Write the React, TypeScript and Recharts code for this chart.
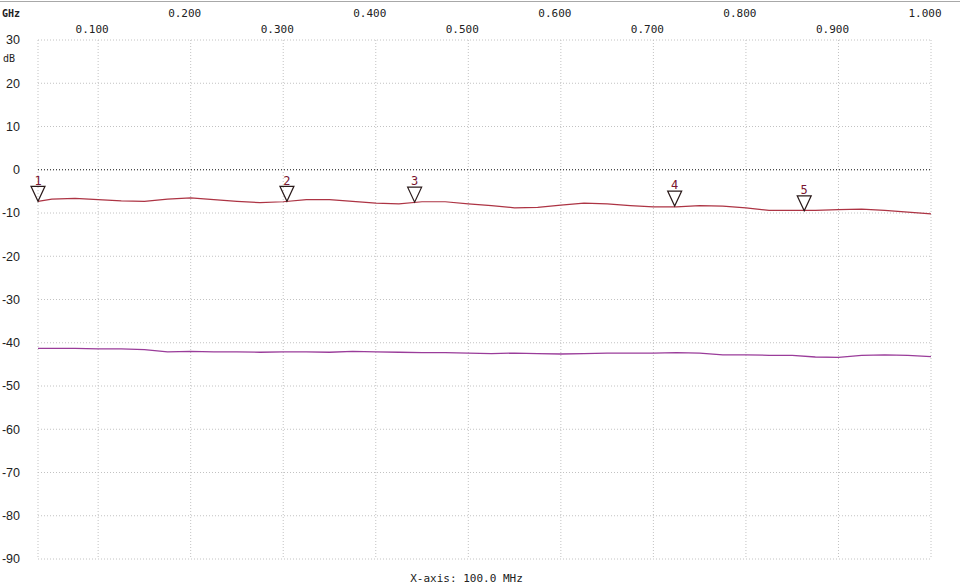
import React from 'react';
import {
  LineChart,
  Line,
  XAxis,
  YAxis,
  CartesianGrid,
  ReferenceLine,
  ReferenceDot,
  Label,
} from 'recharts';

// frequency points (GHz)
const freqs = [
  0.035, 0.05, 0.075, 0.1, 0.125, 0.15, 0.175, 0.2, 0.225, 0.25, 0.275, 0.3, 0.325, 0.35,
  0.375, 0.4, 0.425, 0.45, 0.475, 0.5, 0.525, 0.55, 0.575, 0.6, 0.625, 0.65, 0.675, 0.7,
  0.725, 0.75, 0.775, 0.8, 0.825, 0.85, 0.875, 0.9, 0.925, 0.95, 0.975, 1.0,
];

// upper trace (dB)
const traceA = [
  -7.3, -6.8, -6.6, -6.9, -7.2, -7.3, -6.8, -6.5, -6.9, -7.3, -7.6, -7.4, -6.9, -6.9,
  -7.3, -7.7, -7.9, -7.4, -7.4, -7.9, -8.3, -8.8, -8.7, -8.2, -7.7, -7.9, -8.3, -8.6,
  -8.6, -8.3, -8.4, -8.8, -9.4, -9.4, -9.4, -9.2, -9.1, -9.4, -9.8, -10.2,
];

// lower trace (dB)
const traceB = [
  -41.3, -41.3, -41.3, -41.4, -41.4, -41.6, -42.1, -42.0, -42.1, -42.1, -42.2, -42.1, -42.1,
  -42.2, -42.0, -42.1, -42.2, -42.3, -42.3, -42.4, -42.5, -42.4, -42.5, -42.6, -42.5, -42.4,
  -42.4, -42.4, -42.3, -42.4, -42.8, -42.8, -42.9, -42.9, -43.3, -43.4, -42.9, -42.8, -42.9,
  -43.2,
];

// markers
const markerFreqs = [0.035, 0.304, 0.442, 0.723, 0.863];
const markerValues = [-7.3, -7.3, -7.5, -8.4, -9.5];
const markerNames = ['1', '2', '3', '4', '5'];

const xTicks = [0.035, 0.1, 0.2, 0.3, 0.4, 0.5, 0.6, 0.7, 0.8, 0.9, 1.0];
const yTicks = [30, 20, 10, 0, -10, -20, -30, -40, -50, -60, -70, -80, -90];

const data = freqs.map((f, i) => ({ f, a: traceA[i], b: traceB[i] }));

const tickFont = '"Liberation Sans", Arial, sans-serif';
const monoFont = '"DejaVu Sans Mono", monospace';

const TopTick = (props: any) => {
  const { x, y, payload } = props;
  const v = payload.value;
  if (v < 0.05) return <g />;
  const odd = Math.round(v * 10) % 2 === 1;
  return (
    <text
      x={x - 6}
      y={odd ? y - 11 : y - 27}
      dy="0.35em"
      textAnchor="middle"
      fontFamily={monoFont}
      fontSize={11}
      fill="#222"
    >
      {v.toFixed(3)}
    </text>
  );
};

const YTick = (props: any) => {
  const { x, y, payload } = props;
  return (
    <g>
      <text x={x} y={y} dy="0.35em" textAnchor="end" fontFamily={tickFont} fontSize={12.5} fill="#222">
        {payload.value}
      </text>
      {payload.value === 30 && (
        <text x={x - 5} y={y + 18} dy="0.35em" textAnchor="end" fontFamily={monoFont} fontSize={10} fill="#222">
          dB
        </text>
      )}
    </g>
  );
};

const RightTick = (props: any) => {
  const { x, y, payload } = props;
  return (
    <g>
      <text x={x} y={y} dy="0.35em" textAnchor="end" fontFamily={tickFont} fontSize={12.5} fill="#222">
        {payload.value}
      </text>
      {payload.value === 30 && (
        <text x={x - 1} y={y + 18} dy="0.35em" textAnchor="end" fontFamily={monoFont} fontSize={10} fill="#222">
          dB
        </text>
      )}
    </g>
  );
};

const Marker = (name: string) => (props: any) => {
  const { cx, cy } = props;
  return (
    <g>
      <polygon
        points={`${cx - 7},${cy - 15} ${cx + 7},${cy - 15} ${cx},${cy}`}
        fill="#fff"
        fillOpacity={0}
        stroke="#2a1a1a"
        strokeWidth={1.2}
      />
      <text x={cx} y={cy - 21} dy="0.35em" textAnchor="middle" fontFamily={monoFont} fontSize={12} fill="#7a1530">
        {name}
      </text>
    </g>
  );
};

const App: React.FC = () => {
  return (
    <div style={{ position: 'absolute', left: 0, top: 0, width: 960, height: 586, background: '#fff' }}>
      <div style={{ position: 'absolute', left: 0, top: 1, width: 960, height: 1, background: '#a8a8a8' }} />
      <LineChart width={960} height={586} data={data} margin={{ top: 0, right: 0, bottom: 0, left: 0 }}>
        <CartesianGrid xAxisId="top" yAxisId="left" stroke="#c2c2c2" strokeDasharray="1 2" />
        <XAxis
          xAxisId="top"
          orientation="top"
          dataKey="f"
          type="number"
          domain={[0.035, 1.0]}
          ticks={xTicks}
          height={40}
          tickSize={0}
          tickMargin={0}
          axisLine={false}
          tick={<TopTick />}
          interval={0}
        >
          <Label
            content={(p: any) => (
              <text x={p.viewBox.x - 36} y={13} dy="0.35em" fontFamily={monoFont} fontSize={10} fontWeight="bold" fill="#222">
                GHz
              </text>
            )}
          />
        </XAxis>
        <XAxis
          xAxisId="bottom"
          orientation="bottom"
          dataKey="f"
          type="number"
          domain={[0.035, 1.0]}
          height={27}
          tick={false}
          axisLine={false}
          tickLine={false}
        >
          <Label
            content={(p: any) => (
              <text
                x={p.viewBox.x + p.viewBox.width / 2 - 18}
                y={p.viewBox.y + 19}
                dy="0.35em"
                textAnchor="middle"
                fontFamily={monoFont}
                fontSize={11}
                fill="#222"
              >
                X-axis: 100.0 MHz
              </text>
            )}
          />
        </XAxis>
        <YAxis
          yAxisId="left"
          domain={[-90, 30]}
          ticks={yTicks}
          width={38}
          tickSize={0}
          tickMargin={18}
          axisLine={false}
          tick={<YTick />}
          interval={0}
        />
        <YAxis
          yAxisId="right"
          orientation="right"
          domain={[-90, 30]}
          ticks={yTicks}
          width={29}
          tickSize={0}
          tickMargin={26}
          axisLine={false}
          tick={<RightTick />}
          interval={0}
        />
        <ReferenceLine xAxisId="top" yAxisId="left" y={0} stroke="#222" strokeDasharray="1 2" />
        <Line
          xAxisId="top"
          yAxisId="left"
          type="linear"
          dataKey="b"
          stroke="#9a3c9a"
          strokeWidth={1.3}
          dot={false}
          isAnimationActive={false}
        />
        <Line
          xAxisId="top"
          yAxisId="left"
          type="linear"
          dataKey="a"
          stroke="#ad3444"
          strokeWidth={1.2}
          dot={false}
          isAnimationActive={false}
        />
        {markerFreqs.map((f, i) => (
          <ReferenceDot
            key={markerNames[i]}
            xAxisId="top"
            yAxisId="left"
            x={f}
            y={markerValues[i]}
            r={1}
            ifOverflow="visible"
            shape={Marker(markerNames[i])}
          />
        ))}
      </LineChart>
    </div>
  );
};

export default App;
